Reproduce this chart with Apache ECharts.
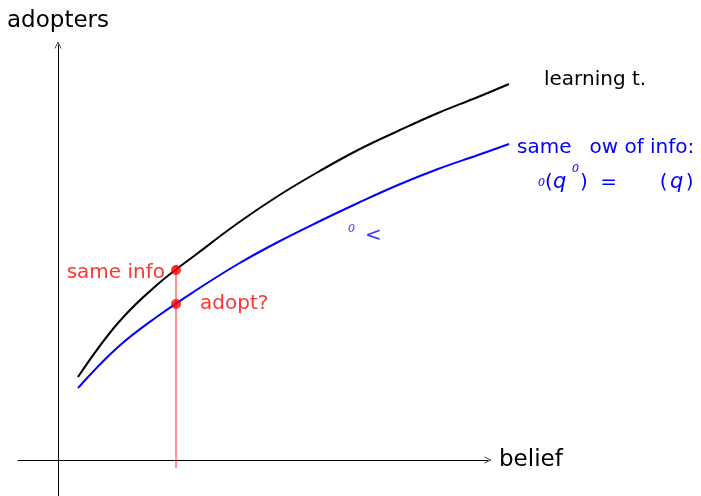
<!DOCTYPE html>
<html>
<head>
<meta charset="utf-8">
<script src="https://cdn.jsdelivr.net/npm/echarts@6/dist/echarts.min.js"></script>
<style>
  html, body { margin: 0; padding: 0; background: #fff; }
  #chart { width: 701px; height: 496px; }
</style>
</head>
<body>
<div id="chart"></div>
<script>
// values (belief on x, adopters on y)
var beliefX = [0.2, 0.6, 1.0, 1.4, 1.8, 2.2, 2.6, 3.0, 3.4, 3.8, 4.2, 4.51];
var learnY = [0.83, 1.37, 1.76, 2.07, 2.37, 2.64, 2.88, 3.10, 3.29, 3.47, 3.63, 3.76];
var flowY = [0.72, 1.13, 1.44, 1.71, 1.96, 2.18, 2.38, 2.57, 2.75, 2.91, 3.05, 3.16];
var beliefCut = 1.18;
var cutLine = [1.95, -0.08];          // red vertical segment, y from / to
var dotY = [1.90, 1.56];              // same info, adopt?
var dotNames = ['same info', 'adopt?'];
var midLabelAt = [3.07, 2.24];

var FONT = 'DejaVu Sans';
var BLUE = '#0000ff';
var RED = '#ff0000';

function pairs(xs, ys) {
   return xs.map(function (x, i) { return [x, ys[i]]; });
}

var chart = echarts.init(document.getElementById('chart'));

// thin open arrow head, like the TeX one
var arrowPath = 'path://M0,10 L5,0 L10,10 L9,10 L5,2 L1,10 Z';

var hidden = { show: false };

var option = {
   animation: false,
   // grid 0 carries the drawn axes, grid 1 (same scale, a bit wider) the curves
   grid: [
      { left: 18, top: 45, width: 470, height: 451 },
      { left: 18, top: 45, width: 492, height: 451 }
   ],
   xAxis: [
      {
         gridIndex: 0, type: 'value', min: -0.4, max: 4.3,
         name: 'belief', nameLocation: 'end', nameGap: 11,
         nameTextStyle: { fontFamily: FONT, fontSize: 23, color: '#000' },
         axisLine: { show: true, onZero: true, symbol: ['none', arrowPath], symbolSize: [9, 7],
                     lineStyle: { color: '#000', width: 1 } },
         axisTick: hidden, axisLabel: hidden, splitLine: hidden
      },
      {
         gridIndex: 1, type: 'value', min: -0.4, max: 4.52,
         axisLine: hidden, axisTick: hidden, axisLabel: hidden, splitLine: hidden
      }
   ],
   yAxis: [
      {
         gridIndex: 0, type: 'value', min: -0.36, max: 4.15,
         name: 'adopters', nameLocation: 'end', nameGap: 12,
         nameTextStyle: { fontFamily: FONT, fontSize: 23, color: '#000', align: 'center' },
         axisLine: { show: true, onZero: true, symbol: ['none', arrowPath], symbolSize: [9, 7],
                     lineStyle: { color: '#000', width: 1 } },
         axisTick: hidden, axisLabel: hidden, splitLine: hidden
      },
      {
         gridIndex: 1, type: 'value', min: -0.36, max: 4.15,
         axisLine: hidden, axisTick: hidden, axisLabel: hidden, splitLine: hidden
      }
   ],
   series: [
      {
         name: 'learning t.', type: 'line', xAxisIndex: 1, yAxisIndex: 1,
         smooth: 0.4, clip: false,
         data: pairs(beliefX, learnY), symbol: 'none',
         lineStyle: { color: '#000', width: 2 },
         endLabel: { show: true, formatter: 'learning t.', distance: 35, offset: [0, -4],
                     fontFamily: FONT, fontSize: 20, color: '#000' }
      },
      {
         name: 'same flow', type: 'line', xAxisIndex: 1, yAxisIndex: 1,
         smooth: 0.4, clip: false,
         data: pairs(beliefX, flowY), symbol: 'none',
         lineStyle: { color: BLUE, width: 2 },
         endLabel: {
            show: true, distance: 8, offset: [0, 23], color: BLUE,
            fontFamily: FONT, fontSize: 20,
            formatter: '{a|same}{gap|}{a|ow of info:}\n' +
                       '{ind|}{sub|0}{p|(}{q|q}{sup|0}{p|)}{eq|=}{gap2|}{p|(}{q2|q}{p2|)}',
            rich: {
               a: { fontFamily: FONT, fontSize: 20, color: BLUE, lineHeight: 32 },
               p: { fontFamily: FONT, fontSize: 20, color: BLUE, lineHeight: 38, width: 8 },
               p2: { fontFamily: FONT, fontSize: 20, color: BLUE, lineHeight: 38 },
               q: { fontFamily: FONT, fontSize: 21, fontStyle: 'italic', color: BLUE,
                    lineHeight: 38, width: 19 },
               q2: { fontFamily: FONT, fontSize: 21, fontStyle: 'italic', color: BLUE,
                     lineHeight: 38, width: 18 },
               eq: { fontFamily: FONT, fontSize: 20, color: BLUE, lineHeight: 38,
                     width: 40, align: 'center' },
               gap: { width: 18 },
               gap2: { width: 31 },
               ind: { width: 21 },
               sub: { fontFamily: FONT, fontSize: 11, fontStyle: 'italic', color: BLUE, width: 7 },
               sup: { fontFamily: FONT, fontSize: 11, fontStyle: 'italic', color: BLUE, width: 8,
                      verticalAlign: 'top', padding: [0, 0, 4, 0] }
            }
         }
      },
      {
         name: 'cut', type: 'line', xAxisIndex: 1, yAxisIndex: 1, clip: false, symbol: 'none',
         data: [[beliefCut, cutLine[0]], [beliefCut, cutLine[1]]],
         lineStyle: { color: RED, width: 1, opacity: 0.85 }, z: 1
      },
      {
         name: 'dots', type: 'scatter', xAxisIndex: 1, yAxisIndex: 1, clip: false, symbolSize: 10,
         itemStyle: { color: RED }, z: 5,
         data: [
            { value: [beliefCut, dotY[0]], name: dotNames[0],
              label: { show: true, position: 'left', distance: 6, offset: [0, 3], formatter: '{b}' } },
            { value: [beliefCut, dotY[1]], name: dotNames[1],
              label: { show: true, position: 'right', distance: 19, formatter: '{b}' } }
         ],
         label: { fontFamily: FONT, fontSize: 20, color: RED }
      },
      {
         name: 'note', type: 'scatter', xAxisIndex: 1, yAxisIndex: 1, clip: false,
         symbolSize: 0, silent: true,
         data: [midLabelAt],
         label: {
            show: true, position: 'inside',
            formatter: '{sup|0}{sp|}{a|<}',
            rich: {
               a: { fontFamily: FONT, fontSize: 20, color: BLUE, lineHeight: 24 },
               sp: { width: 10 },
               sup: { fontFamily: FONT, fontSize: 11, fontStyle: 'italic', color: BLUE,
                      verticalAlign: 'top' }
            }
         }
      }
   ]
};
chart.setOption(option);
</script>
</body>
</html>
